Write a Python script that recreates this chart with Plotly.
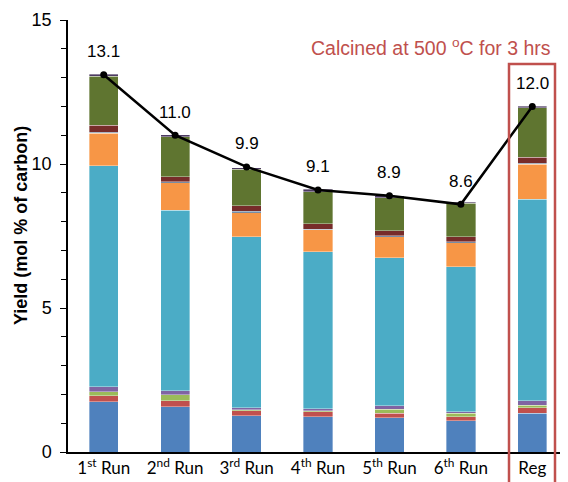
import plotly.graph_objects as go

categories = ["1<sup>st</sup> Run", "2<sup>nd</sup> Run", "3<sup>rd</sup> Run", "4<sup>th</sup> Run",
              "5<sup>th</sup> Run", "6<sup>th</sup> Run", "Reg"]

# stacked segments, bottom to top
seg_blue = [1.75, 1.57, 1.26, 1.23, 1.19, 1.08, 1.34]
seg_red = [0.21, 0.21, 0.17, 0.17, 0.16, 0.15, 0.20]
seg_green = [0.14, 0.21, 0.04, 0.03, 0.13, 0.11, 0.08]
seg_purple = [0.16, 0.13, 0.07, 0.07, 0.12, 0.06, 0.16]
seg_cyan = [7.68, 6.28, 5.94, 5.46, 5.15, 5.03, 7.00]
seg_orange = [1.13, 0.95, 0.83, 0.75, 0.73, 0.84, 1.21]
seg_darkblue = [0.04, 0.03, 0.05, 0.03, 0.03, 0.03, 0.03]
seg_darkred = [0.24, 0.17, 0.19, 0.18, 0.17, 0.18, 0.21]
seg_olive = [1.69, 1.39, 1.27, 1.12, 1.15, 1.15, 1.72]
seg_darkpurple = [0.08, 0.08, 0.05, 0.08, 0.06, 0.05, 0.06]

totals = [13.1, 11.0, 9.9, 9.1, 8.9, 8.6, 12.0]
total_labels = ["13.1", "11.0", "9.9", "9.1", "8.9", "8.6", "12.0"]

series = [
    (seg_blue, "#4F81BD"),
    (seg_red, "#C0504D"),
    (seg_green, "#9BBB59"),
    (seg_purple, "#8064A2"),
    (seg_cyan, "#4BACC6"),
    (seg_orange, "#F79646"),
    (seg_darkblue, "#2C4D75"),
    (seg_darkred, "#772C2A"),
    (seg_olive, "#5F7530"),
    (seg_darkpurple, "#4D3B62"),
]

fig = go.Figure()
for vals, col in series:
    fig.add_trace(go.Bar(
        x=categories, y=vals,
        marker=dict(color=col, line=dict(color="rgba(255,255,255,0.45)", width=0.8)),
        showlegend=False, hoverinfo="skip",
    ))

fig.add_trace(go.Scatter(
    x=categories, y=totals, mode="lines+markers",
    line=dict(color="black", width=2.5),
    marker=dict(color="black", size=7),
    showlegend=False,
))

for c, t, lab in zip(categories, totals, total_labels):
    fig.add_annotation(x=c, y=t, text=lab, showarrow=False, yshift=23,
                       font=dict(family="Liberation Sans, Arial", size=17, color="black"))

fig.add_annotation(xref="paper", yref="paper", x=0.726, y=0.937, xanchor="center", yanchor="middle",
                   text="Calcined at 500 <sup>o</sup>C for 3 hrs", showarrow=False,
                   font=dict(family="Liberation Sans, Arial", size=19.5, color="#C0504D"))

# y-axis title placed by hand
fig.add_annotation(xref="paper", yref="paper", x=-0.094, y=0.523, xanchor="center", yanchor="middle",
                   text="<b>Yield (mol % of carbon)</b>", textangle=-90, showarrow=False,
                   font=dict(family="Liberation Sans, Arial", size=18, color="black"))

fig.add_shape(type="rect", xref="paper", yref="paper", x0=0.882, x1=0.974, y0=-0.12, y1=0.898,
              line=dict(color="#C0504D", width=2.5), fillcolor="rgba(0,0,0,0)")

# page body has an 8px margin, so the figure is sized to fit the 568x482 window
fig.update_layout(
    width=560, height=474,
    margin=dict(l=60, r=0, t=12, b=30, autoexpand=False),
    barmode="stack", bargap=0.59,
    plot_bgcolor="white", paper_bgcolor="white",
    font=dict(family="Liberation Sans, Arial", color="black"),
)
fig.update_xaxes(
    type="category", range=[-0.5, 6.5], automargin=False,
    showline=True, linecolor="black", linewidth=1.5, ticks="",
    tickfont=dict(family="Lato, Noto Sans", size=17, color="black"),
    showgrid=False, fixedrange=True,
)
fig.update_yaxes(
    range=[0, 15], tickvals=[0, 5, 10, 15], automargin=False,
    showline=True, linecolor="black", linewidth=1.5,
    ticks="outside", ticklen=6, tickcolor="black", tickwidth=1,
    ticklabelstandoff=5,
    minor=dict(tickvals=list(range(0, 16)), ticks="outside", ticklen=5, tickcolor="black", tickwidth=1, showgrid=False),
    tickfont=dict(family="Liberation Sans, Arial", size=18, color="black"),
    showgrid=False, zeroline=False,
)

fig.write_html("out.html")
